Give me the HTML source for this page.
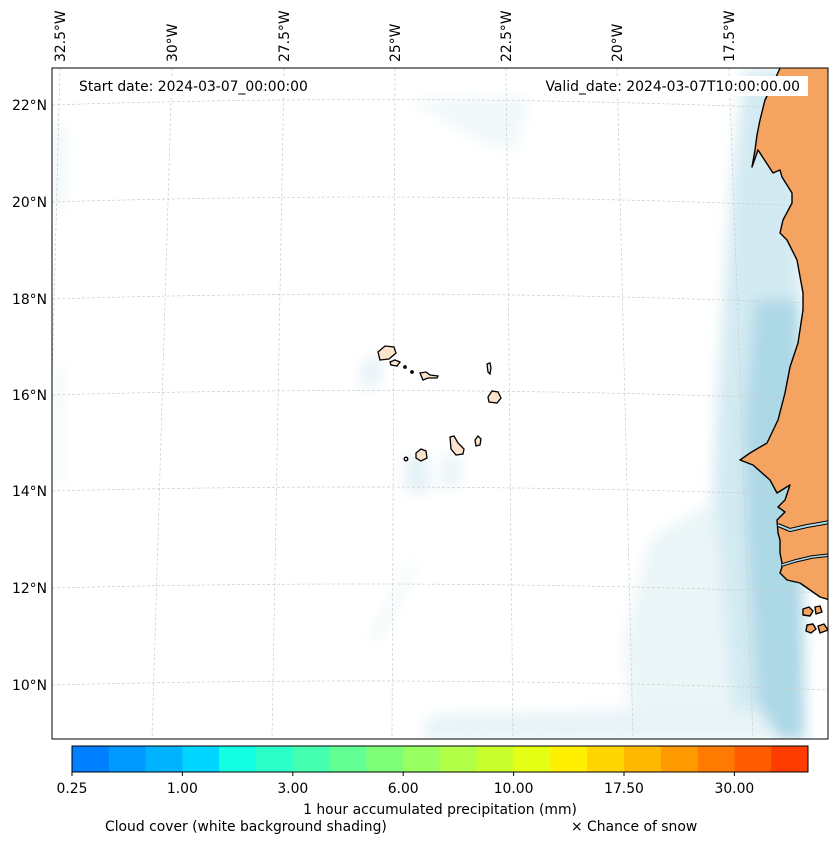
<!DOCTYPE html>
<html><head><meta charset="utf-8"><style>
body{margin:0;background:#fff;width:837px;height:844px;overflow:hidden;font-family:"DejaVu Sans","Liberation Sans",sans-serif}
svg text{font-family:"DejaVu Sans","Liberation Sans",sans-serif;fill:#000}
</style></head><body>
<svg id="chart" width="837" height="844" viewBox="0 0 837 844" xmlns="http://www.w3.org/2000/svg">
<defs>
<filter id="blur6" x="-50%" y="-50%" width="200%" height="200%"><feGaussianBlur stdDeviation="7"/></filter>
<clipPath id="mapclip"><rect x="52" y="68" width="776" height="671"/></clipPath>
</defs>
<g clip-path="url(#mapclip)">
<rect x="52" y="68" width="776" height="671" fill="#fff"/>
<g filter="url(#blur6)">
<path d="M745 70 L800 70 L800 740 L735 740 L720 620 L712 520 L716 420 L724 300 L732 180 Z" fill="#d3eaf2"/>
<path d="M755 300 L800 300 L805 740 L760 740 L748 560 L744 430 Z" fill="#add8e6"/>
<path d="M650 540 L715 500 L735 740 L630 740 L625 640 Z" fill="#eaf5f8"/>
<path d="M430 716 L760 708 L780 740 L420 740 Z" fill="#e6f3f7"/>
<path d="M410 100 L530 98 L515 150 L480 140 Z" fill="#f0f8fa"/>
<path d="M52 120 L66 130 L64 200 L52 220 Z" fill="#eef7fa"/>
<path d="M362 362 L382 355 L378 385 L362 390 Z" fill="#e3f1f6"/>
<path d="M405 458 L428 455 L430 492 L405 492 Z" fill="#e3f1f6"/>
<path d="M442 455 L462 458 L458 488 L442 488 Z" fill="#e8f4f8"/>
<path d="M410 565 L418 560 L378 640 L370 640 Z" fill="#e8f4f8"/>
<path d="M52 360 L64 370 L62 480 L52 495 Z" fill="#f3f9fb"/>
</g>
<g stroke="#cccccc" stroke-width="0.7" stroke-dasharray="3,2" fill="none">
<path d="M60 68 L43 739"/><path d="M172 68 L152 739"/><path d="M284 68 L272 739"/><path d="M395 68 L392 739"/>
<path d="M506 68 L513 739"/><path d="M617 68 L633 739"/><path d="M729 68 L753 739"/>
<path d="M52 105 Q440 92 828 110"/><path d="M52 202 Q440 190 828 207"/><path d="M52 299 Q440 287 828 304"/>
<path d="M52 395 Q440 384 828 400"/><path d="M52 491 Q440 481 828 496"/><path d="M52 588 Q440 578 828 593"/>
<path d="M52 685 Q440 675 828 690"/>
</g>
<g stroke="#000" stroke-width="1.4" stroke-linejoin="round">
<path d="M781 66 L770 90 L765 100 L760 120 L757 135 L755 150 L752 167 L758 150 L773 173 L780 170 L782 177 L792 193 L792 203 L783 220 L780 233 L787 240 L797 260 L803 293 L803 310 L798 343 L790 367 L785 393 L778 420 L767 443 L750 453 L740 460 L753 465 L770 480 L777 493 L790 485 L785 500 L778 507 L785 512 L777 520 L778 533 L780 540 L780 553 L782 563 L782 567 L780 573 L787 580 L800 583 L810 590 L820 597 L830 600 L840 600 L840 66 Z" fill="#f4a460"/>
<path d="M778 525 L790 530 L807 526 L830 522" fill="none" stroke="#000" stroke-width="4"/>
<path d="M778 525 L790 530 L807 526 L830 522" fill="none" stroke="#add8e6" stroke-width="2"/>
<path d="M782 565 L795 561 L812 557 L830 555" fill="none" stroke="#000" stroke-width="3.5"/>
<path d="M782 565 L795 561 L812 557 L830 555" fill="none" stroke="#add8e6" stroke-width="1.5"/>
<path d="M803 609 l6 -2 l4 4 l-3 5 l-7 -1 Z M815 607 l5 -1 l2 6 l-6 2 Z M807 625 l6 -1 l3 5 l-5 4 l-5 -2 Z M818 626 l6 -2 l4 6 l-8 3 Z" fill="#f4a460"/>
</g>
<g fill="#fbe3cc" stroke="#000" stroke-width="1.3">
<path d="M378 352 l7 -6 l9 1 l2 6 l-7 6 l-9 1 Z"/>
<path d="M390 362 l5 -2 l5 2 l-3 4 l-6 -1 Z"/>
<circle cx="405" cy="367" r="1.2" fill="#000"/><circle cx="412" cy="372" r="1.2" fill="#000"/>
<path d="M420 373 l6 -1 l4 3 l8 1 l-1 2 l-9 0 l-5 2 Z"/>
<path d="M487 364 l3 -1 l1 5 l-1 6 l-2 -2 Z"/>
<path d="M488 397 l4 -6 l6 1 l3 6 l-4 5 l-8 -1 Z"/>
<path d="M475 440 l3 -4 l3 3 l-1 6 l-4 1 Z"/>
<path d="M450 437 l4 -1 l4 7 l6 6 l-1 5 l-7 1 l-5 -6 Z"/>
<path d="M416 453 l5 -4 l5 2 l1 7 l-6 3 l-5 -3 Z"/>
<circle cx="406" cy="459" r="1.8"/>
</g>
</g>
<rect x="52" y="68" width="776" height="671" fill="none" stroke="#000" stroke-width="1"/>
<rect x="73" y="76" width="242" height="20" fill="#fff"/>
<text x="79" y="91" font-size="13.9">Start date: 2024-03-07_00:00:00</text>
<rect x="538" y="76" width="270" height="20" fill="#fff"/>
<text x="800" y="91" font-size="13.9" text-anchor="end">Valid_date: 2024-03-07T10:00:00.00</text>
<g id="lonlabels"></g>
<g id="latlabels"></g>
<g id="colorbar"></g>
<text x="440" y="814" font-size="13.9" text-anchor="middle">1 hour accumulated precipitation (mm)</text>
<text x="105" y="831" font-size="13.9">Cloud cover (white background shading)</text>
<text x="571" y="831" font-size="13.9">× Chance of snow</text>
</svg>
<script>
const lonLabels=["32.5°W","30°W","27.5°W","25°W","22.5°W","20°W","17.5°W"];
const lonX=[60,172,284,395,506,617,729];
const latLabels=["22°N","20°N","18°N","16°N","14°N","12°N","10°N"];
const latY=[105,202,299,395,491,588,685];
const cbColors=["#0080ff","#0099ff","#00b3ff","#00d5ff","#14ffe2","#2dffc8","#45ffb0","#62ff95","#7fff78","#98ff60","#b1ff47","#caff2d","#e3ff14","#fff000","#ffd500","#ffb800","#ff9a00","#ff7a00","#ff5c00","#ff3d00"];
const cbTicks=["0.25","1.00","3.00","6.00","10.00","17.50","30.00"];
const NS="http://www.w3.org/2000/svg";
const lg=document.getElementById('lonlabels');
lonLabels.forEach((t,i)=>{const e=document.createElementNS(NS,'text');


e.setAttribute('font-size','13.9');e.setAttribute('transform',`translate(${lonX[i]+5},62) rotate(-90)`);e.textContent=t;lg.appendChild(e);});
const la=document.getElementById('latlabels');
latLabels.forEach((t,i)=>{const e=document.createElementNS(NS,'text');


e.setAttribute('font-size','13.9');e.setAttribute('x','47');e.setAttribute('y',latY[i]+5);e.setAttribute('text-anchor','end');e.textContent=t;la.appendChild(e);});
const cb=document.getElementById('colorbar');const x0=72,w=736,y0=746,h=26,bw=w/cbColors.length;
cbColors.forEach((c,i)=>{const r=document.createElementNS(NS,'rect');


r.setAttribute('x',x0+i*bw);r.setAttribute('y',y0);r.setAttribute('width',bw+0.5);r.setAttribute('height',h);r.setAttribute('fill',c);cb.appendChild(r);});
const fr=document.createElementNS(NS,'rect');


fr.setAttribute('x',x0);fr.setAttribute('y',y0);fr.setAttribute('width',w);fr.setAttribute('height',h);fr.setAttribute('fill','none');fr.setAttribute('stroke','#000');cb.appendChild(fr);
cbTicks.forEach((t,i)=>{const x=x0+i*3*bw;const l=document.createElementNS(NS,'line');


l.setAttribute('x1',x);l.setAttribute('x2',x);l.setAttribute('y1',y0+h);l.setAttribute('y2',y0+h+4);l.setAttribute('stroke','#000');cb.appendChild(l);
const e=document.createElementNS(NS,'text');


e.setAttribute('x',x);e.setAttribute('y',793);e.setAttribute('font-size','13.9');e.setAttribute('text-anchor','middle');e.textContent=t;cb.appendChild(e);});
</script>
</body></html>
